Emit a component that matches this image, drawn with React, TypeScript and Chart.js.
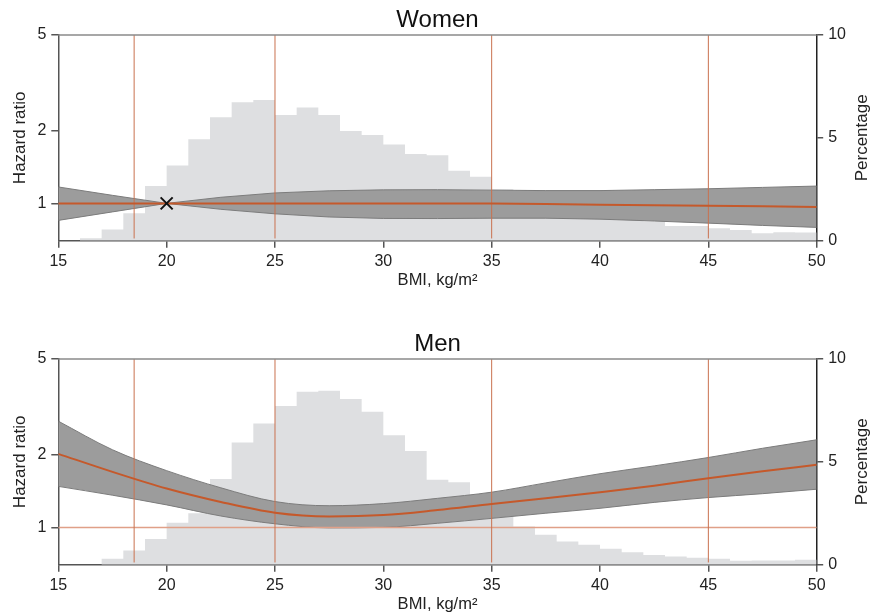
import React, { useEffect, useRef } from 'react';
import { Chart, registerables } from 'chart.js';

Chart.register(...registerables);

const FONT = '"Liberation Sans", Arial, Helvetica, sans-serif';
Chart.defaults.font.family = FONT;

// Axis definitions
const X_MIN = 15;
const X_MAX = 50;
const HR_MIN = 0.715;
const HR_MAX = 5;
const HR_TICKS = [1, 2, 5];
const PCT_MIN = 0;
const PCT_MAX = 10;
const CUTPOINTS = [18.5, 25, 35, 45];

// Histogram bins (left edge of 1-unit BMI bins)
const BIN_STARTS = [15, 16, 17, 18, 19, 20, 21, 22, 23, 24, 25, 26, 27, 28, 29, 30, 31, 32, 33, 34, 35, 36, 37, 38, 39, 40, 41, 42, 43, 44, 45, 46, 47, 48, 49];
const WOMEN_PCT = [0, 0.12, 0.55, 1.33, 2.66, 3.65, 4.93, 6.0, 6.73, 6.84, 6.11, 6.47, 6.11, 5.33, 5.14, 4.68, 4.21, 4.15, 3.4, 3.11, 2.5, 2.38, 2.1, 1.8, 1.55, 1.3, 1.1, 0.95, 0.71, 0.71, 0.6, 0.52, 0.36, 0.41, 0.4];
const MEN_PCT = [0, 0, 0.29, 0.69, 1.25, 2.04, 2.5, 4.17, 5.94, 6.86, 7.72, 8.41, 8.46, 8.06, 7.43, 6.29, 5.53, 4.13, 4.01, 3.1, 2.4, 1.86, 1.46, 1.13, 0.97, 0.78, 0.61, 0.47, 0.4, 0.34, 0.29, 0.19, 0.21, 0.21, 0.24];

// Hazard ratio curves with confidence band
const BMI_PTS = [15, 17.5, 20, 22.5, 25, 27.5, 30, 32.5, 35, 37.5, 40, 42.5, 45, 47.5, 50];
const WOMEN_HR = [1.0, 1.0, 1.0, 1.0, 1.0, 1.0, 1.0, 1.0, 1.0, 0.995, 0.988, 0.983, 0.978, 0.972, 0.967];
const WOMEN_UP = [1.17, 1.08, 1.0, 1.06, 1.105, 1.128, 1.138, 1.14, 1.135, 1.13, 1.13, 1.14, 1.15, 1.165, 1.18];
const WOMEN_LO = [0.85, 0.922, 1.0, 0.945, 0.905, 0.878, 0.866, 0.865, 0.868, 0.868, 0.86, 0.845, 0.828, 0.81, 0.795];
const MEN_HR = [2.02, 1.7, 1.45, 1.275, 1.15, 1.11, 1.125, 1.18, 1.25, 1.32, 1.4, 1.49, 1.6, 1.71, 1.82];
const MEN_UP = [2.76, 2.1, 1.72, 1.46, 1.28, 1.23, 1.255, 1.32, 1.4, 1.53, 1.67, 1.8, 1.95, 2.13, 2.31];
const MEN_LO = [1.48, 1.36, 1.24, 1.115, 1.035, 0.995, 1.0, 1.04, 1.09, 1.145, 1.2, 1.27, 1.33, 1.38, 1.44];

const REFERENCE_POINT = [20, 1];

const W = 871;
const H = 291;

type PanelProps = {
  title: string;
  pct: number[];
  hr: number[];
  up: number[];
  lo: number[];
  smooth: boolean;
  marker?: number[];
  refLine?: boolean;
  top: number;
};

function Panel({ title, pct, hr, up, lo, smooth, marker, refLine, top }: PanelProps) {
  const ref = useRef<HTMLCanvasElement>(null);

  useEffect(() => {
    const canvas = ref.current!;
    const hist = BIN_STARTS.map((x, i) => ({ x, y: pct[i] }));
    hist.push({ x: X_MAX, y: pct[pct.length - 1] });

    const curve = smooth ? { cubicInterpolationMode: 'monotone', tension: 0.4 } : { tension: 0 };

    const datasets: any[] = [];
    if (marker) {
      datasets.push({
        data: [{ x: marker[0], y: marker[1] }],
        showLine: false,
        pointStyle: 'crossRot',
        pointRadius: 8.5,
        pointBorderColor: '#111',
        pointBorderWidth: 2,
        borderColor: '#111',
        yAxisID: 'y',
        order: 0,
      });
    }
    datasets.push({
      data: BMI_PTS.map((x, i) => ({ x, y: hr[i] })),
      borderColor: '#c5592b',
      borderWidth: 2,
      pointRadius: 0,
      fill: false,
      ...curve,
      yAxisID: 'y',
      order: 1,
    });
    CUTPOINTS.forEach((c) =>
      datasets.push({
        data: [{ x: c, y: HR_MIN }, { x: c, y: HR_MAX }],
        borderColor: '#c9714f',
        borderWidth: 1,
        pointRadius: 0,
        fill: false,
        yAxisID: 'y',
        order: 3,
      })
    );
    if (refLine) {
      datasets.push({
        data: [{ x: X_MIN, y: 1 }, { x: X_MAX, y: 1 }],
        borderColor: '#e0a088',
        borderWidth: 1.5,
        pointRadius: 0,
        fill: false,
        yAxisID: 'y',
        order: 3,
      });
    }
    datasets.push({
      data: BMI_PTS.map((x, i) => ({ x, y: up[i] })),
      borderColor: '#7c7c7c',
      borderWidth: 1,
      backgroundColor: '#9c9c9c',
      pointRadius: 0,
      fill: '+1',
      ...curve,
      yAxisID: 'y',
      order: 5,
    });
    datasets.push({
      data: BMI_PTS.map((x, i) => ({ x, y: lo[i] })),
      borderColor: '#7c7c7c',
      borderWidth: 1,
      pointRadius: 0,
      fill: false,
      ...curve,
      yAxisID: 'y',
      order: 4,
    });
    datasets.push({
      data: hist,
      stepped: 'before',
      fill: 'origin',
      backgroundColor: '#dedfe1',
      borderWidth: 0,
      borderColor: 'rgba(0,0,0,0)',
      pointRadius: 0,
      yAxisID: 'y1',
      order: 10,
    });

    const decor = {
      id: 'decor',
      afterDraw(chart: any) {
        const { ctx, chartArea: ca } = chart;
        ctx.save();
        ctx.strokeStyle = '#8a8a8a';
        ctx.lineWidth = 1.5;
        ctx.beginPath();
        ctx.moveTo(ca.left, ca.top);
        ctx.lineTo(ca.right, ca.top);
        ctx.stroke();
        ctx.fillStyle = '#111';
        ctx.font = `24px ${FONT}`;
        ctx.textAlign = 'center';
        ctx.textBaseline = 'alphabetic';
        ctx.fillText(title, (ca.left + ca.right) / 2, 26.7);
        ctx.font = `17px ${FONT}`;
        ctx.fillStyle = '#222';
        ctx.translate(862.5, (ca.top + ca.bottom) / 2);
        ctx.rotate(-Math.PI / 2);
        ctx.textBaseline = 'middle';
        ctx.fillText('Percentage', 0, 0);
        ctx.restore();
      },
    };

    const chart = new Chart(canvas, {
      type: 'line',
      data: { datasets },
      options: {
        animation: false,
        responsive: false,
        devicePixelRatio: 1,
        events: [],
        layout: { padding: { top: 35, left: 0, right: 0, bottom: 0 } },
        plugins: { legend: { display: false }, tooltip: { enabled: false }, title: { display: false } },
        scales: {
          x: {
            type: 'linear',
            min: X_MIN,
            max: X_MAX,
            ticks: { stepSize: 5, font: { size: 16 }, color: '#222', padding: 4 },
            grid: { drawOnChartArea: false, drawTicks: true, tickLength: 7, color: '#555', lineWidth: 1.5 },
            border: { display: true, color: '#555', width: 1.5 },
            title: { display: true, text: 'BMI, kg/m²', font: { size: 16.5 }, color: '#222', padding: { top: 0, bottom: 1 } },
            afterFit: (s: any) => { s.height = H - 240.7; },
          },
          y: {
            type: 'logarithmic',
            position: 'left',
            min: HR_MIN,
            max: HR_MAX,
            afterBuildTicks: (s: any) => { s.ticks = HR_TICKS.map((v) => ({ value: v })); },
            ticks: { font: { size: 16 }, color: '#222', padding: 5, callback: (v: any) => String(v) },
            grid: { drawOnChartArea: false, drawTicks: true, tickLength: 7, color: '#555', lineWidth: 1.5 },
            border: { display: true, color: '#555', width: 1.5 },
            title: { display: true, text: 'Hazard ratio', font: { size: 17 }, color: '#222', padding: { top: 10.6, bottom: 0 } },
            afterFit: (s: any) => { s.width = 58.3; },
          },
          y1: {
            type: 'linear',
            position: 'right',
            min: PCT_MIN,
            max: PCT_MAX,
            ticks: { stepSize: 5, font: { size: 16 }, color: '#222', padding: 5 },
            grid: { drawOnChartArea: false, drawTicks: true, tickLength: 6.5, color: '#555', lineWidth: 1.5 },
            border: { display: true, color: '#222', width: 1.5 },
            afterFit: (s: any) => { s.width = W - 816.7; },
          },
        },
      } as any,
      plugins: [decor],
    });
    return () => chart.destroy();
  }, []);

  return (
    <div style={{ position: 'absolute', left: 0, top, width: W, height: H }}>
      <canvas ref={ref} width={W} height={H} style={{ display: 'block', width: W, height: H }} />
    </div>
  );
}

export default function App() {
  return (
    <div style={{ position: 'fixed', left: 0, top: 0, width: W, height: 615, background: '#fff', overflow: 'hidden' }}>
      <Panel title="Women" pct={WOMEN_PCT} hr={WOMEN_HR} up={WOMEN_UP} lo={WOMEN_LO} smooth={false} marker={REFERENCE_POINT} top={0} />
      <Panel title="Men" pct={MEN_PCT} hr={MEN_HR} up={MEN_UP} lo={MEN_LO} smooth={true} refLine top={324} />
    </div>
  );
}
